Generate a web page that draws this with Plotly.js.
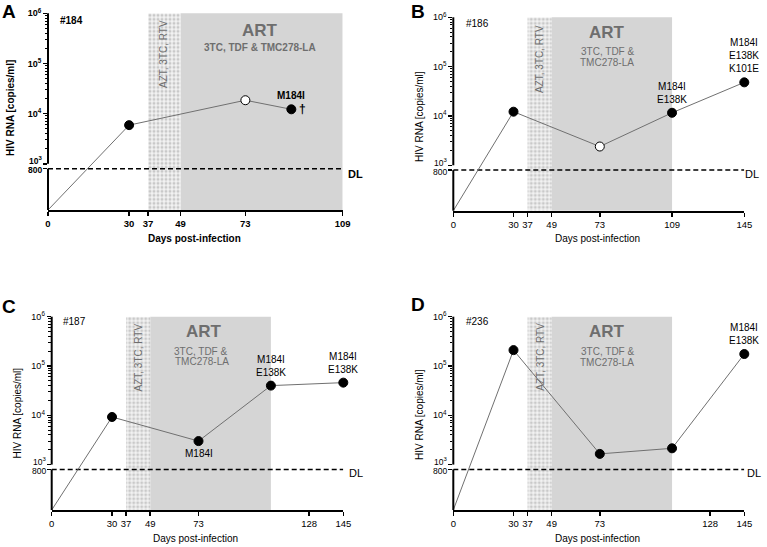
<!DOCTYPE html>
<html><head><meta charset="utf-8">
<script src="https://cdn.plot.ly/plotly-3.0.1.min.js"></script>
<style>html,body{margin:0;padding:0;background:#fff}#chart{width:767px;height:547px}</style>
</head><body><div id="chart"></div>
<script>
const W = 767, H = 547;
// ---- data ----
const daysA = [0, 30, 73, 90];
const rnaA = [120, 5900, 18500, 12200];
const openA = [false, false, true, false];
const mutA = ['', '', '', 'M184I'];

const daysB = [0, 30, 73, 109, 145];
const rnaB = [120, 12200, 2400, 11600, 48000];
const openB = [false, false, true, false, false];
const mutB = ['', '', '', 'M184I<br>E138K', 'M184I<br>E138K<br>K101E'];

const daysC = [0, 30, 73, 109, 145];
const rnaC = [120, 9250, 3000, 40000, 46000];
const openC = [false, false, false, false, false];
const mutC = ['', '', 'M184I', 'M184I<br>E138K', 'M184I<br>E138K'];

const daysD = [0, 30, 73, 109, 145];
const rnaD = [120, 210000, 1650, 2140, 175000];
const openD = [false, false, false, false, false];
const mutD = ['', '', '', '', 'M184I<br>E138K'];

const xTicksA = [0, 30, 37, 49, 73, 109];
const xTicksB = [0, 30, 37, 49, 73, 109, 145];
const xTicksC = [0, 30, 37, 49, 73, 128, 145];
const xTicksD = [0, 30, 37, 49, 73, 128, 145];
const xMax = [109, 145, 145, 145];
const yTickVals = [1e4, 1e5, 1e6];
const yTickText = ['10<sup>4</sup>', '10<sup>5</sup>', '10<sup>6</sup>'];
const yBreakVals = [800, 1e3];
const yBreakText = ['800', '10<sup>3</sup>'];
const yFloor = 120, yTop = 1e6;
const aztPeriod = [37, 49];
const artPeriod = [49, 109];
const detectionLimit = 800;
const panelLetters = ['A', 'B', 'C', 'D'];
const animalIds = ['#184', '#186', '#187', '#236'];

// ---- layout geometry (pixels) ----
const cfg = [
  {days: daysA, rna: rnaA, open: openA, mut: mutA, ticks: xTicksA, bold: true, below: [],
   xpx: [48, 342.7], ypx: [13.3, 210], letter: [9, 12], id: [71, 20.7], art: [260, 30],
   sub: [['3TC, TDF & TMC278-LA', 260, 47.5]], azt: [164, 54], dl: [355, 173.5], ytitle: [11, 108], xtitle: [194, 239]},
  {days: daysB, rna: rnaB, open: openB, mut: mutB, ticks: xTicksB, bold: false, below: [],
   xpx: [453.3, 744.3], ypx: [17.3, 210.7], letter: [418, 11], id: [477.5, 24], art: [607, 32.3],
   sub: [['3TC, TDF &', 607, 51.7], ['TMC278-LA', 607, 62.7]], azt: [540, 59], dl: [752, 174], ytitle: [419, 117], xtitle: [597, 239]},
  {days: daysC, rna: rnaC, open: openC, mut: mutC, ticks: xTicksC, bold: false, below: [2],
   xpx: [51.7, 343.3], ypx: [316.7, 510], letter: [9, 306], id: [74, 321.7], art: [204, 331.7],
   sub: [['3TC, TDF &', 201, 351], ['TMC278-LA', 202, 361.7]], azt: [138, 357.5], dl: [356, 472.5], ytitle: [17, 413.5], xtitle: [195, 538.3]},
  {days: daysD, rna: rnaD, open: openD, mut: mutD, ticks: xTicksD, bold: false, below: [],
   xpx: [453.3, 744.3], ypx: [316.7, 510], letter: [418, 305], id: [477.5, 321.7], art: [607, 331.7],
   sub: [['3TC, TDF &', 607, 351], ['TMC278-LA', 607, 362]], azt: [541, 356.7], dl: [754, 472.7], ytitle: [419, 415], xtitle: [597, 538.3]}
];

const FONT = 'Liberation Sans, Arial, Helvetica, sans-serif';
const GREY = '#6e6e6e';
const lo = Math.log10(yFloor), hi = Math.log10(yTop);
const frac = v => (Math.log10(v) - lo) / (hi - lo);
const P = (px, py) => ({x: px / W, y: 1 - py / H, xref: 'paper', yref: 'paper'});
const B = (t, b) => b ? '<b>' + t + '</b>' : t;

const traces = [], shapes = [], annotations = [];
const layout = {
  width: W, height: H, margin: {l: 0, r: 0, t: 0, b: 0},
  paper_bgcolor: '#fff', plot_bgcolor: 'rgba(0,0,0,0)',
  showlegend: false, hovermode: false,
  font: {family: FONT, color: '#000'},
  shapes: shapes, annotations: annotations
};

const minorVals = [];
[1e3, 1e4, 1e5].forEach(d => { for (let m = 2; m <= 9; m++) minorVals.push(m * d); });

cfg.forEach((c, i) => {
  const n = i === 0 ? '' : String(i + 1);
  const xa = 'x' + n, ya = 'y' + n;
  layout['xaxis' + n] = {
    domain: [c.xpx[0] / W, c.xpx[1] / W], range: [0, xMax[i]], anchor: ya,
    showline: true, linewidth: 2, linecolor: '#000', showgrid: false, zeroline: false,
    ticks: 'outside', ticklen: 4, tickwidth: 1.5, tickcolor: '#000',
    tickmode: 'array', tickvals: c.ticks, ticktext: c.ticks.map(t => B(String(t), c.bold)),
    tickfont: {size: 9.5, family: FONT}
  };
  layout['yaxis' + n] = {
    domain: [1 - c.ypx[1] / H, 1 - c.ypx[0] / H], type: 'log', range: [lo, hi], anchor: xa,
    showline: false, showgrid: false, zeroline: false,
    ticks: 'outside', ticklen: 4, tickwidth: 1.5, tickcolor: '#000',
    tickmode: 'array', tickvals: yBreakVals.concat(yTickVals),
    ticktext: ['', ''].concat(yTickText.map(t => B(t, c.bold))),
    tickfont: {size: 9, family: FONT},
    minor: {tickmode: 'array', tickvals: minorVals, ticks: 'outside', ticklen: 2.5, tickwidth: 1, tickcolor: '#000'}
  };
  // labels at the axis break, nudged apart
  yBreakVals.forEach((v, k) => {
    annotations.push({xref: xa + ' domain', yref: ya, x: 0, y: Math.log10(v), text: B(yBreakText[k], c.bold),
      showarrow: false, xanchor: 'right', yanchor: 'middle', xshift: -5, yshift: k === 0 ? -1.5 : 3,
      font: {size: 8.5, family: FONT, color: '#000'}, borderpad: 0});
  });

  // AZT/3TC/RTV period (checkered)
  traces.push({
    type: 'bar', xaxis: xa, yaxis: ya,
    x: [(aztPeriod[0] + aztPeriod[1]) / 2], width: [aztPeriod[1] - aztPeriod[0]],
    base: [yFloor], y: [yTop - yFloor],
    marker: {color: '#f1f1f1', line: {width: 0},
      pattern: {shape: '.', fgcolor: '#c9c9c9', bgcolor: '#f3f3f3', size: 4, solidity: 0.45}}
  });
  // ART period
  shapes.push({type: 'rect', xref: xa, yref: ya + ' domain', x0: artPeriod[0], x1: artPeriod[1], y0: 0, y1: 1,
    fillcolor: '#d5d5d5', line: {width: 0}, layer: 'below'});
  // broken y axis line
  shapes.push({type: 'line', xref: xa + ' domain', yref: ya + ' domain', x0: 0, x1: 0, y0: frac(1e3), y1: 1,
    line: {color: '#000', width: 2}});
  shapes.push({type: 'line', xref: xa + ' domain', yref: ya + ' domain', x0: 0, x1: 0, y0: 0, y1: frac(detectionLimit),
    line: {color: '#000', width: 2}});

  // detection limit
  traces.push({type: 'scatter', mode: 'lines', xaxis: xa, yaxis: ya,
    x: [0, xMax[i]], y: [detectionLimit, detectionLimit],
    line: {color: '#000', width: 1.5, dash: '5px,3px'}});
  // viral load line
  traces.push({type: 'scatter', mode: 'lines', xaxis: xa, yaxis: ya, cliponaxis: false,
    x: c.days, y: c.rna, line: {color: '#707070', width: 1}});
  // markers (skip day 0 start point)
  traces.push({type: 'scatter', mode: 'markers', xaxis: xa, yaxis: ya, cliponaxis: false,
    x: c.days.slice(1), y: c.rna.slice(1),
    marker: {size: 9, color: c.open.slice(1).map(o => o ? '#fff' : '#000'), line: {color: '#000', width: 1}}});

  // mutation labels
  c.mut.forEach((m, k) => {
    if (!m) return;
    const below = c.below.indexOf(k) >= 0;
    annotations.push({xref: xa, yref: ya, x: c.days[k], y: Math.log10(c.rna[k]), text: B(m, c.bold),
      showarrow: false, xanchor: 'center', yanchor: below ? 'top' : 'bottom', yshift: below ? -5 : 6,
      font: {size: 10, family: FONT, color: '#000'}});
  });

  annotations.push(Object.assign(P(c.letter[0], c.letter[1]), {text: '<b>' + panelLetters[i] + '</b>', showarrow: false,
    xanchor: 'center', yanchor: 'middle', font: {size: 19, family: FONT}}));
  annotations.push(Object.assign(P(c.id[0], c.id[1]), {text: B(animalIds[i], c.bold), showarrow: false,
    xanchor: 'center', yanchor: 'middle', font: {size: 10, family: FONT}}));
  annotations.push(Object.assign(P(c.art[0], c.art[1]), {text: '<b>ART</b>', showarrow: false,
    xanchor: 'center', yanchor: 'middle', font: {size: 17, family: FONT, color: GREY}}));
  c.sub.forEach(s => annotations.push(Object.assign(P(s[1], s[2]), {text: B(s[0], c.bold), showarrow: false,
    xanchor: 'center', yanchor: 'middle', font: {size: 10, family: FONT, color: GREY}})));
  annotations.push(Object.assign(P(c.azt[0], c.azt[1]), {text: 'AZT, 3TC, RTV', textangle: -90, showarrow: false,
    xanchor: 'center', yanchor: 'middle', font: {size: 10, family: FONT, color: GREY}}));
  annotations.push(Object.assign(P(c.dl[0], c.dl[1]), {text: B('DL', c.bold), showarrow: false,
    xanchor: 'center', yanchor: 'middle', font: {size: 11, family: FONT}}));
  annotations.push(Object.assign(P(c.ytitle[0], c.ytitle[1]), {text: B('HIV RNA [copies/ml]', c.bold), textangle: -90,
    showarrow: false, xanchor: 'center', yanchor: 'middle', font: {size: 10, family: FONT}}));
  annotations.push(Object.assign(P(c.xtitle[0], c.xtitle[1]), {text: B('Days post-infection', c.bold),
    showarrow: false, xanchor: 'center', yanchor: 'middle', font: {size: 10, family: FONT}}));
});

// death marker (panel A, last sample)
annotations.push({xref: 'x', yref: 'y', x: daysA[daysA.length - 1], y: Math.log10(rnaA[rnaA.length - 1]),
  text: '<b>†</b>', showarrow: false, xanchor: 'left', yanchor: 'middle', xshift: 6,
  font: {size: 12, family: FONT, color: '#000'}});

Plotly.newPlot('chart', traces, layout, {staticPlot: true, displayModeBar: false});
</script>
</body></html>
